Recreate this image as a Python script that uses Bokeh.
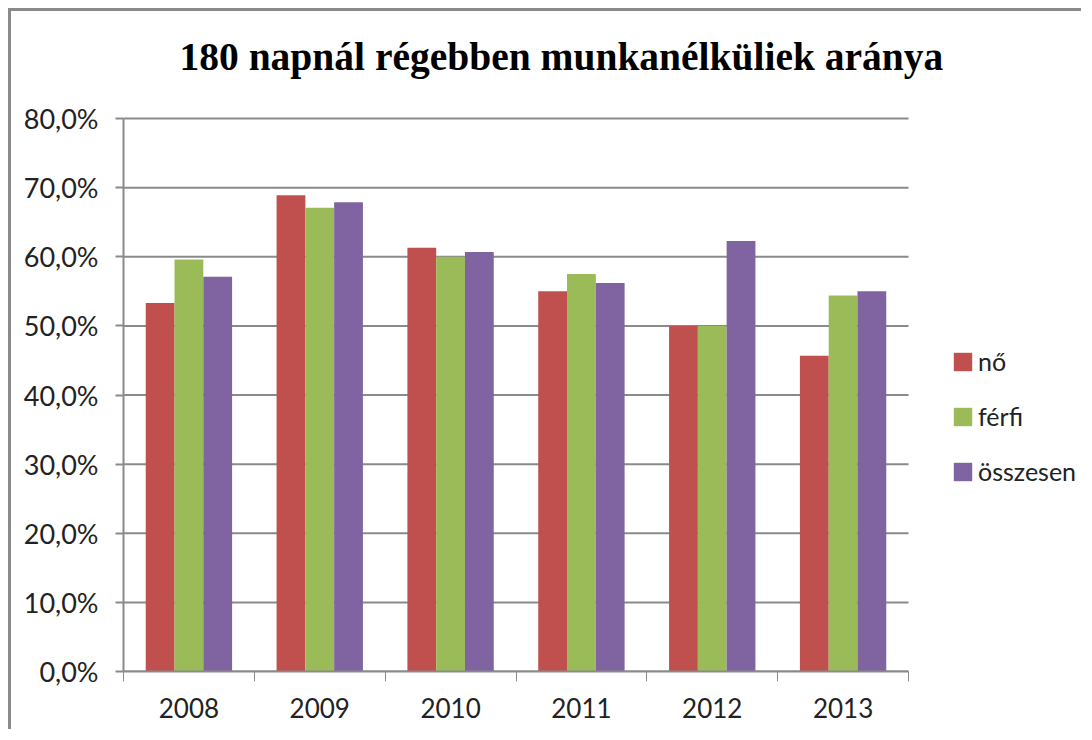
from bokeh.plotting import figure
from bokeh.models import ColumnDataSource, Range1d, FixedTicker, Legend, LegendItem, Title
from bokeh.transform import dodge
from bokeh.embed import file_html
from bokeh.resources import INLINE

title_text = "180 napnál régebben munkanélküliek aránya"
years = ["2008", "2009", "2010", "2011", "2012", "2013"]
series_names = ["nő", "férfi", "összesen"]
no_values = [53.3, 68.9, 61.3, 55.0, 50.0, 45.7]
ferfi_values = [59.6, 67.1, 60.0, 57.5, 50.0, 54.4]
osszesen_values = [57.1, 67.9, 60.7, 56.2, 62.3, 55.0]
y_ticks = [0.0, 0.1, 0.2, 0.3, 0.4, 0.5, 0.6, 0.7, 0.8]
y_tick_labels = ["0,0%", "10,0%", "20,0%", "30,0%", "40,0%", "50,0%", "60,0%", "70,0%", "80,0%"]
colors = ["#C0504D", "#9BBB59", "#8064A2"]

FONT = "Lato"
GRAY = "#8a8a8a"

# layout (pixels)
FIG_W, FIG_H = 1073, 721
LEFT, TOP, BOTTOM = 112, 105, 61
CAT_AREA_W = 785            # width of the category area
frame_w = FIG_W - LEFT
n = len(years)
x_end = n * frame_w / CAT_AREA_W

xs = [i + 0.5 for i in range(n)]
source = ColumnDataSource(data=dict(
    x=xs,
    no=[v / 100 for v in no_values],
    ferfi=[v / 100 for v in ferfi_values],
    osszesen=[v / 100 for v in osszesen_values],
))

p = figure(width=FIG_W, height=FIG_H, output_backend="svg", toolbar_location=None, title=None,
           x_range=Range1d(0, x_end), y_range=Range1d(0, 0.803),
           min_border_left=LEFT, min_border_right=0, min_border_top=TOP, min_border_bottom=BOTTOM)
p.styles = {"border-top": f"3px solid {GRAY}", "border-left": f"3px solid {GRAY}",
            "margin-left": "8px", "margin-top": "8px"}
p.outline_line_color = None
p.background_fill_color = "white"
p.border_fill_color = "white"

# horizontal gridlines limited to the category area
p.segment(x0=[0] * len(y_ticks), x1=[n] * len(y_ticks), y0=y_ticks, y1=y_ticks,
          line_color=GRAY, line_width=2)

bw = 0.22
renderers = []
for name, col, c, off in zip(series_names, ["no", "ferfi", "osszesen"], colors, [-bw, 0, bw]):
    r = p.vbar(x=dodge("x", off), top=col, width=bw, bottom=0, source=source,
               fill_color=c, line_color=None)
    renderers.append(r)

# y axis
p.yaxis.ticker = FixedTicker(ticks=y_ticks)
p.yaxis.major_label_overrides = {t: l for t, l in zip(y_ticks, y_tick_labels)}
p.yaxis.major_label_text_font = FONT
p.yaxis.major_label_text_font_size = "27px"
p.yaxis.major_label_text_color = "#222222"
p.yaxis.axis_line_color = GRAY
p.yaxis.axis_line_width = 2
p.yaxis.major_tick_line_color = GRAY
p.yaxis.major_tick_line_width = 2
p.yaxis.major_tick_out = 8
p.yaxis.major_tick_in = 0
p.yaxis.minor_tick_line_color = None
p.yaxis.major_label_standoff = 17
p.yaxis.bounds = (0, 0.8)

# x axis: labels at centres, tick marks between categories
p.xaxis.ticker = FixedTicker(ticks=xs, minor_ticks=list(range(n + 1)))
p.xaxis.major_label_overrides = {x: y for x, y in zip(xs, years)}
p.xaxis.major_label_text_font = FONT
p.xaxis.major_label_text_font_size = "26px"
p.xaxis.major_label_text_color = "#222222"
p.xaxis.axis_line_color = GRAY
p.xaxis.axis_line_width = 2
p.xaxis.bounds = (0, n)
p.xaxis.major_tick_line_color = None
p.xaxis.minor_tick_line_color = GRAY
p.xaxis.minor_tick_line_width = 1
p.xaxis.minor_tick_out = 10
p.xaxis.minor_tick_in = 0
p.xaxis.major_label_standoff = 16

p.xgrid.grid_line_color = None
p.ygrid.grid_line_color = None

# spacer between the frame and the title, then the title itself (stacked outward)
p.add_layout(Title(text=" ", text_font_size="1px", standoff=35), "above")
p.add_layout(Title(text=title_text, align="left", offset=56, standoff=0,
                   text_font="Liberation Serif", text_font_style="bold",
                   text_font_size="39.5px", text_color="black"), "above")

legend = Legend(items=[LegendItem(label=nm, renderers=[r]) for nm, r in zip(series_names, renderers)],
                location=(828, 185), glyph_width=23, glyph_height=23, spacing=25,
                label_standoff=4, padding=0, margin=0,
                label_text_font=FONT, label_text_font_size="25px", label_text_color="#222222",
                border_line_color=None, background_fill_alpha=0)
p.add_layout(legend)

open("out.html", "w").write(file_html(p, INLINE))
